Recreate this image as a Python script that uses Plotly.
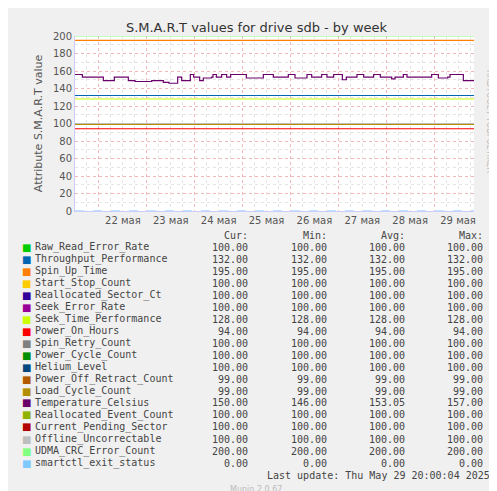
import plotly.graph_objects as go

names = ["Raw_Read_Error_Rate","Throughput_Performance","Spin_Up_Time","Start_Stop_Count",
 "Reallocated_Sector_Ct","Seek_Error_Rate","Seek_Time_Performance","Power_On_Hours",
 "Spin_Retry_Count","Power_Cycle_Count","Helium_Level","Power_Off_Retract_Count",
 "Load_Cycle_Count","Temperature_Celsius","Reallocated_Event_Count","Current_Pending_Sector",
 "Offline_Uncorrectable","UDMA_CRC_Error_Count","smartctl_exit_status"]
colors = ["#00CC00","#0066B3","#FF8000","#FFCC00","#330099","#990099","#CCFF00","#FF0000",
 "#808080","#008F00","#00487D","#B35A00","#B38F00","#6B006B","#8FB300","#B30000",
 "#BEBEBE","#80FF80","#80C9FF"]
cur = [100,132,195,100,100,100,128,94,100,100,100,99,99,150,100,100,100,200,0]
mn  = [100,132,195,100,100,100,128,94,100,100,100,99,99,146,100,100,100,200,0]
avg = [100,132,195,100,100,100,128,94,100,100,100,99,99,153.05,100,100,100,200,0]
mx  = [100,132,195,100,100,100,128,94,100,100,100,99,99,157,100,100,100,200,0]

# hours since 21 May 12:00
day_labels = ["22 мая","23 мая","24 мая","25 мая","26 мая","27 мая","28 мая","29 мая"]
day_label_hours = [24,48,72,96,120,144,168,192]
midnight_hours = [12,36,60,84,108,132,156,180]
x_end = 200

temp_z = [200,218,222,280,285,313,318,355,360,375,380,430,435,460,465,478,482,505,508,516,520,542,546,552,556,570,574,580,585,610,614,620,624,636,640,650,655,662,667,710,714,760,765,790,795,836,840,856,860,892,896,906,910,936,940,952,956,972,976,996,1002,1008,1014,1042,1046,1062,1066,1092,1096,1112,1116,1146,1150,1156,1160,1180,1185,1192,1196,1266,1270,1286,1290,1312,1318,1325,1360,1365,1397]
temp_v = [156,156,153,153,149,149,153,153,149,149,148,149,149,149,147,147,146,146,153,153,149,149,156,156,153,153,149,149,152,153,156,156,153,153,156,156,153,153,156,156,152,152,156,156,153,153,156,156,152,152,156,156,153,153,156,156,153,153,156,156,150,150,153,153,156,156,153,153,156,156,153,153,151,151,153,153,156,156,153,153,156,156,152,152,153,156,156,149,149]
temp_h = [(z-200)/1197*200 for z in temp_z]

fig = go.Figure()
# midnight grid axis (drawn first)
fig.add_trace(go.Scatter(x=[0,x_end], y=[None,None], xaxis="x2", showlegend=False))
for i,n in enumerate(names):
    if n == "Temperature_Celsius":
        xs, ys = temp_h, temp_v
    else:
        xs, ys = [0, x_end], [cur[i], cur[i]]
    fig.add_trace(go.Scatter(x=xs, y=ys, mode="lines", line=dict(color=colors[i], width=1.2, shape="hv",
                             dash="dash" if n == "smartctl_exit_status" else "solid"),
                             showlegend=False, hoverinfo="skip"))

W, H, L, R, T, B = 497, 491, 67, 31, 28, 288
pw, ph = W-L-R, H-T-B
def px(x): return (x-L)/pw
def py(y): return (H-B-y)/ph

fig.update_layout(
    width=W, height=H, margin=dict(l=L, r=R, t=T, b=B, autoexpand=False),
    paper_bgcolor="#f0f0f0", plot_bgcolor="white",
    font=dict(family="DejaVu Sans", size=10, color="#555"),
    title=dict(text="S.M.A.R.T values for drive sdb - by week", x=0.5, y=1-19/H, xanchor="center",
               yanchor="middle", font=dict(size=13, color="#333")),
    xaxis=dict(range=[0,x_end], tickmode="array", tickvals=day_label_hours, ticktext=day_labels,
               showgrid=False, zeroline=False, ticks="", showline=True, linecolor="#ccccff", automargin=False,
               minor=dict(dtick=6, tick0=0, showgrid=True, gridcolor="#e4e4e4", griddash="dot", gridwidth=1)),
    xaxis2=dict(range=[0,x_end], overlaying="x", side="bottom", tickvals=midnight_hours, showticklabels=False,
                showgrid=True, gridcolor="#f2b8b8", griddash="dot", gridwidth=1, zeroline=False, automargin=False),
    yaxis=dict(range=[0,200], dtick=20, showgrid=True, gridcolor="#f2b8b8", griddash="dot",
               zeroline=False, showline=True, linecolor="#ccccff", ticks="", automargin=False,
               title=dict(text="Attribute S.M.A.R.T value", font=dict(size=11, color="#555"), standoff=8),
               minor=dict(dtick=10, showgrid=True, gridcolor="#e4e4e4", griddash="dot")),
)

ann = []
mono = dict(family="DejaVu Sans Mono", size=10, color="#444")
for hx, lab in zip([242,321,399,477], ["Cur:","Min:","Avg:","Max:"]):
    ann.append(dict(x=px(hx), y=py(227), text=lab, xanchor="right"))
for i,n in enumerate(names):
    y = 239 + i*12
    ann.append(dict(x=px(12), y=py(y), text="■", xanchor="left", font=dict(family="DejaVu Sans", size=10, color=colors[i])))
    ann.append(dict(x=px(25), y=py(y), text=n, xanchor="left"))
    for hx, v in zip([242,321,399,477], [cur[i],mn[i],avg[i],mx[i]]):
        ann.append(dict(x=px(hx), y=py(y), text=f"{v:.2f}", xanchor="right"))
ann.append(dict(x=px(484), y=py(467), text="Last update: Thu May 29 20:00:04 2025", xanchor="right"))
for a in ann:
    a.update(xref="paper", yref="paper", yanchor="middle", showarrow=False)
    a.setdefault("font", mono)
ann.append(dict(x=px(248), y=py(481), xref="paper", yref="paper", yanchor="middle", text="Munin 2.0.67", showarrow=False,
                font=dict(size=8, color="#bbb")))
ann.append(dict(x=px(488), y=py(60), xref="paper", yref="paper", text="RRDTOOL / TOBI OETIKER", textangle=90,
                showarrow=False, font=dict(size=8, color="#bbb")))
fig.update_layout(annotations=ann)
fig.write_html("out.html")
